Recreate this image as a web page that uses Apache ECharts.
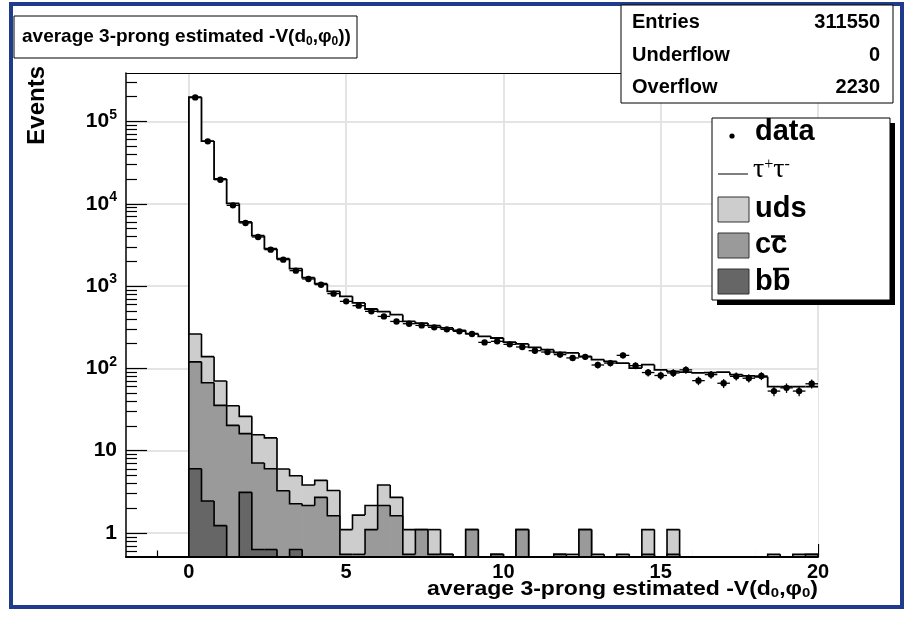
<!DOCTYPE html>
<html><head><meta charset="utf-8">
<script src="https://cdn.jsdelivr.net/npm/echarts@6/dist/echarts.min.js"></script>
<style>html,body{margin:0;padding:0;background:#fff}#c{width:906px;height:621px}</style>
</head><body><div id="c"></div>
<script>
// ---- data (50 bins of width 0.4 from 0 to 20) ----
const binLow = 0;
const binWidth = 0.4;
const dataCounts = [196000,57300,19600,9570,5850,3950,2770,2094,1540,1220,
  1040,809,652,578,493,428,372,349,333,315,
  298,282,262,207,213,196,182,164,158,147,
  134,138,110,116,144,108,89,82,88,96,
  71,84,66,80,76,81,53,58,53,65];
const tauTau = [197000,57800,20000,10100,6010,4100,2850,2150,1630,1265,
  1070,863,750,624,527,490,449,372,355,330,
  310,290,264,245,234,209,198,180,169,156,
  154,140,128,122,116,101,111,96,92,90,
  88,89,90,84,81,79,60,60,60,60];
const udsMC = [142,72,34.8,14.9,10.0,8.5,8.26,2.74,2.7,1.67,
  1.65,1.67,0.55,1.1,1.06,1.67,1.09,0.55,0,0.55,
  0,0,0,0,0,0,0,0,0,0,
  0.55,0,0.55,0,0.55,0,0.55,0,0.55,0,
  0,0,0,0,0,0,0.55,0,0.55,0];
const ccMC = [114,64.5,34.3,20.3,13.0,6.46,5.41,3.26,1.64,2.16,
  2.71,1.62,0.55,0.55,1.1,2.16,1.62,0.55,1.1,0.55,
  0.55,0,1.1,0,0.55,0,1.1,0,0,0.55,
  0,1.1,0,0,0,0,0.55,0,0.55,0,
  0,0,0,0,0,0,0,0,0,0.55];
const bbMC = [6.04,2.45,1.23,0,3.12,0.63,0.63,0,0.63,0,
  0,0,0,0,0,0,0,0,0,0,
  0,0,0,0,0,0,0,0,0,0,
  0,0,0,0,0,0,0,0,0,0,
  0,0,0,0,0,0,0,0,0,0];
const xTickLabels = [0,5,10,15,20];
const yTickValues = [1,10,100,1000,10000,100000];
const statNames = ['Entries','Underflow','Overflow'];
const statValues = ['311550','0','2230'];

const YMIN = 0.511, YMAX = 388000;
const FONT = 'Liberation Sans';

// ---- build series data ----
function edges(i){ return [binLow + i*binWidth, binLow + (i+1)*binWidth]; }
function histData(vals, closeRight){
  return vals.map((v,i)=>{ const e = edges(i); return [e[0], e[1], v, i>0?vals[i-1]:0, (closeRight && i===vals.length-1)?1:0]; });
}
const layerBB = bbMC.slice();
const layerCC = bbMC.map((v,i)=>v+ccMC[i]);
const layerAll = layerCC.map((v,i)=>v+udsMC[i]);
const pointData = dataCounts.map((v,i)=>{ const e=edges(i); return [(e[0]+e[1])/2, v, Math.sqrt(v)]; });

function makeHist(fill, lw){
  return function(params, api){
    const lo=api.value(0), hi=api.value(1), v=api.value(2), pv=api.value(3), last=api.value(4);
    const c = x => Math.max(x, YMIN);
    const tl = api.coord([lo, c(v)]);
    const tr = api.coord([hi, c(v)]);
    const yb = api.coord([lo, YMIN])[1];
    const yp = api.coord([lo, c(pv)])[1];
    const ch = [];
    if (fill && v > YMIN) ch.push({type:'rect', z2:0, shape:{x:tl[0], y:tl[1], width:tr[0]-tl[0]+0.6, height:Math.max(0, yb-1-tl[1])}, style:{fill:fill, stroke:null}});
    ch.push({type:'polyline', z2:1, shape:{points:[[tl[0],yp],[tl[0],tl[1]],[tr[0],tr[1]]]}, style:{stroke:'#000', lineWidth:lw, fill:null}});
    if (last) ch.push({type:'line', z2:1, shape:{x1:tr[0],y1:tr[1],x2:tr[0],y2:yb}, style:{stroke:'#000', lineWidth:lw}});
    return {type:'group', children:ch};
  };
}
function renderPoints(params, api){
  const x=api.value(0), v=api.value(1), e=api.value(2);
  const p = api.coord([x, v]);
  const pl = api.coord([x-binWidth/2, v]), pr = api.coord([x+binWidth/2, v]);
  const pt = api.coord([x, v+e]), pb = api.coord([x, Math.max(v-e, YMIN)]);
  return {type:'group', children:[
    {type:'line', shape:{x1:pl[0],y1:p[1],x2:pr[0],y2:p[1]}, style:{stroke:'#000', lineWidth:1.3}},
    {type:'line', shape:{x1:p[0],y1:pt[1],x2:p[0],y2:pb[1]}, style:{stroke:'#000', lineWidth:1.3}},
    {type:'circle', shape:{cx:p[0],cy:p[1],r:3.2}, style:{fill:'#000'}}
  ]};
}

const minorX = [];
for (let v=-1; v<20; v++) if (v%5!==0) minorX.push(v);
const minorY = [0.6,0.7,0.8,0.9];
for (let d=0; d<5; d++) for (let k=2; k<10; k++) minorY.push(k*Math.pow(10,d));
minorY.push(200000, 300000);

const labelRich = { sup:{fontSize:14, fontWeight:'bold', fontFamily:FONT, padding:[0,0,13,0]} };

const chart = echarts.init(document.getElementById('c'));
chart.setOption({
  animation:false,
  backgroundColor:'#fff',
  grid:{left:126, top:73, right:88, bottom:64, containLabel:false},
  xAxis:[
    {type:'value', min:-2, max:20, position:'bottom', z:0,
     axisLine:{onZero:false, lineStyle:{color:'#000', width:2}},
     axisTick:{inside:true, length:13, customValues:xTickLabels, lineStyle:{color:'#000', width:1.2}},
     axisLabel:{customValues:xTickLabels, color:'#000', fontSize:20, fontWeight:'bold', fontFamily:FONT, margin:5},
     splitLine:{show:true, lineStyle:{color:'#e4e4e4', width:2}}},
    {type:'value', min:-2, max:20, position:'bottom', z:0,
     axisLine:{show:false, onZero:false},
     axisTick:{inside:true, length:6.5, customValues:minorX, lineStyle:{color:'#000', width:1.2}},
     axisLabel:{show:false}, splitLine:{show:false}},
    {type:'value', min:-2, max:20, position:'top', z:0,
     axisLine:{onZero:false, lineStyle:{color:'#000', width:1}}, axisTick:{show:false}, axisLabel:{show:false}, splitLine:{show:false}}
  ],
  yAxis:[
    {type:'log', logBase:10, min:YMIN, max:YMAX, position:'left', z:0,
     axisLine:{onZero:false, lineStyle:{color:'#000', width:1.5}},
     axisTick:{inside:true, length:21, customValues:yTickValues, lineStyle:{color:'#000', width:1.2}},
     axisLabel:{customValues:yTickValues, color:'#000', fontSize:21, fontWeight:'bold', fontFamily:FONT, margin:9, rich:labelRich,
       formatter:function(v){ const e=Math.round(Math.log10(v)); if(e===0) return '1'; if(e===1) return '10'; return '10{sup|'+e+'}'; }},
     splitLine:{show:true, lineStyle:{color:'#e4e4e4', width:2}}},
    {type:'log', logBase:10, min:YMIN, max:YMAX, position:'left', z:0,
     axisLine:{show:false, onZero:false},
     axisTick:{inside:true, length:11, customValues:minorY, lineStyle:{color:'#000', width:1.2}},
     axisLabel:{show:false}, splitLine:{show:false}}
  ],
  series:[
    {name:'τ+τ-', type:'custom', z:10, clip:true, encode:{x:[0,1], y:2},
     renderItem:makeHist('#ffffff', 1.8), data:histData(tauTau, false)},
    {name:'uds', type:'custom', z:11, clip:true, encode:{x:[0,1], y:2},
     renderItem:makeHist('#cdcdcd', 1.6), data:histData(layerAll, true)},
    {name:'cc̄', type:'custom', z:12, clip:true, encode:{x:[0,1], y:2},
     renderItem:makeHist('#9a9a9a', 1.6), data:histData(layerCC, true)},
    {name:'bb̄', type:'custom', z:13, clip:true, encode:{x:[0,1], y:2},
     renderItem:makeHist('#666666', 1.6), data:histData(layerBB, true)},
    {name:'data', type:'custom', z:14, clip:true, encode:{x:0, y:1},
     renderItem:renderPoints, data:pointData}
  ],
  graphic:[
    {type:'rect', shape:{x:11, y:4, width:891, height:603}, style:{fill:null, stroke:'#1f3c8c', lineWidth:4}, z:0},
    // title box
    {type:'rect', shape:{x:14, y:16, width:343, height:42}, style:{fill:'#fff', stroke:'#000', lineWidth:1}, z:20},
    {type:'text', x:22, y:37, z:21, style:{text:'average 3-prong estimated -V(d{sub|0},φ{sub|0}))', fill:'#000',
      font:'bold 19px '+FONT, verticalAlign:'middle', rich:{sub:{fontSize:12, fontWeight:'bold', fontFamily:FONT, padding:[9,0,0,0]}}}},
    // stats box
    {type:'rect', shape:{x:621, y:5, width:272, height:98}, style:{fill:'#fff', stroke:'#000', lineWidth:1}, z:20},
    {type:'text', x:632, y:22, z:21, style:{text:statNames[0], fill:'#000', font:'bold 20px '+FONT, verticalAlign:'middle'}},
    {type:'text', x:632, y:55, z:21, style:{text:statNames[1], fill:'#000', font:'bold 20px '+FONT, verticalAlign:'middle'}},
    {type:'text', x:632, y:87, z:21, style:{text:statNames[2], fill:'#000', font:'bold 20px '+FONT, verticalAlign:'middle'}},
    {type:'text', x:880, y:22, z:21, style:{text:statValues[0], fill:'#000', font:'bold 20px '+FONT, verticalAlign:'middle', align:'right'}},
    {type:'text', x:880, y:55, z:21, style:{text:statValues[1], fill:'#000', font:'bold 20px '+FONT, verticalAlign:'middle', align:'right'}},
    {type:'text', x:880, y:87, z:21, style:{text:statValues[2], fill:'#000', font:'bold 20px '+FONT, verticalAlign:'middle', align:'right'}},
    // legend
    {type:'rect', shape:{x:717, y:123, width:178, height:182}, style:{fill:'#000'}, z:20},
    {type:'rect', shape:{x:712, y:118, width:178, height:182}, style:{fill:'#fff', stroke:'#000', lineWidth:1}, z:21},
    {type:'circle', shape:{cx:732, cy:136, r:2.6}, style:{fill:'#000'}, z:22},
    {type:'text', x:755, y:146, z:22, style:{text:'data', fill:'#000', font:'bold 29px '+FONT, verticalAlign:'bottom'}},
    {type:'line', shape:{x1:718, y1:174, x2:748, y2:174}, style:{stroke:'#000', lineWidth:1}, z:22},
    {type:'text', x:753, y:184, z:22, style:{text:'τ{sp|+}τ{sp|-}', fill:'#000', font:'28px Liberation Serif', verticalAlign:'bottom',
      rich:{sp:{fontSize:16, fontFamily:'Liberation Serif', padding:[0,0,11,0]}}}},
    {type:'rect', shape:{x:718, y:197, width:31, height:25}, style:{fill:'#cdcdcd', stroke:'#333', lineWidth:1}, z:22},
    {type:'text', x:755, y:223, z:22, style:{text:'uds', fill:'#000', font:'bold 29px '+FONT, verticalAlign:'bottom'}},
    {type:'rect', shape:{x:718, y:233, width:31, height:25}, style:{fill:'#9a9a9a', stroke:'#333', lineWidth:1}, z:22},
    {type:'text', x:755, y:259, z:22, style:{text:'cc', fill:'#000', font:'bold 29px '+FONT, verticalAlign:'bottom'}},
    {type:'line', shape:{x1:771, y1:236.5, x2:785, y2:236.5}, style:{stroke:'#000', lineWidth:2.5}, z:22},
    {type:'rect', shape:{x:718, y:269, width:31, height:25}, style:{fill:'#666666', stroke:'#333', lineWidth:1}, z:22},
    {type:'text', x:755, y:296, z:22, style:{text:'bb', fill:'#000', font:'bold 29px '+FONT, verticalAlign:'bottom'}},
    {type:'line', shape:{x1:773, y1:269, x2:789, y2:269}, style:{stroke:'#000', lineWidth:2.5}, z:22},
    // axis titles
    {type:'text', x:37, y:66, rotation:Math.PI/2, z:21, style:{text:'Events', fill:'#000', font:'bold 24px '+FONT, align:'right', verticalAlign:'middle'}},
    {type:'text', x:818, y:589, scaleX:1.15, z:21, style:{text:'average 3-prong estimated -V(d{sub|0},φ{sub|0})', fill:'#000', font:'bold 20px '+FONT,
      align:'right', verticalAlign:'middle', rich:{sub:{fontSize:13, fontWeight:'bold', fontFamily:FONT, padding:[9,0,0,0]}}}}
  ]
});
</script></body></html>
